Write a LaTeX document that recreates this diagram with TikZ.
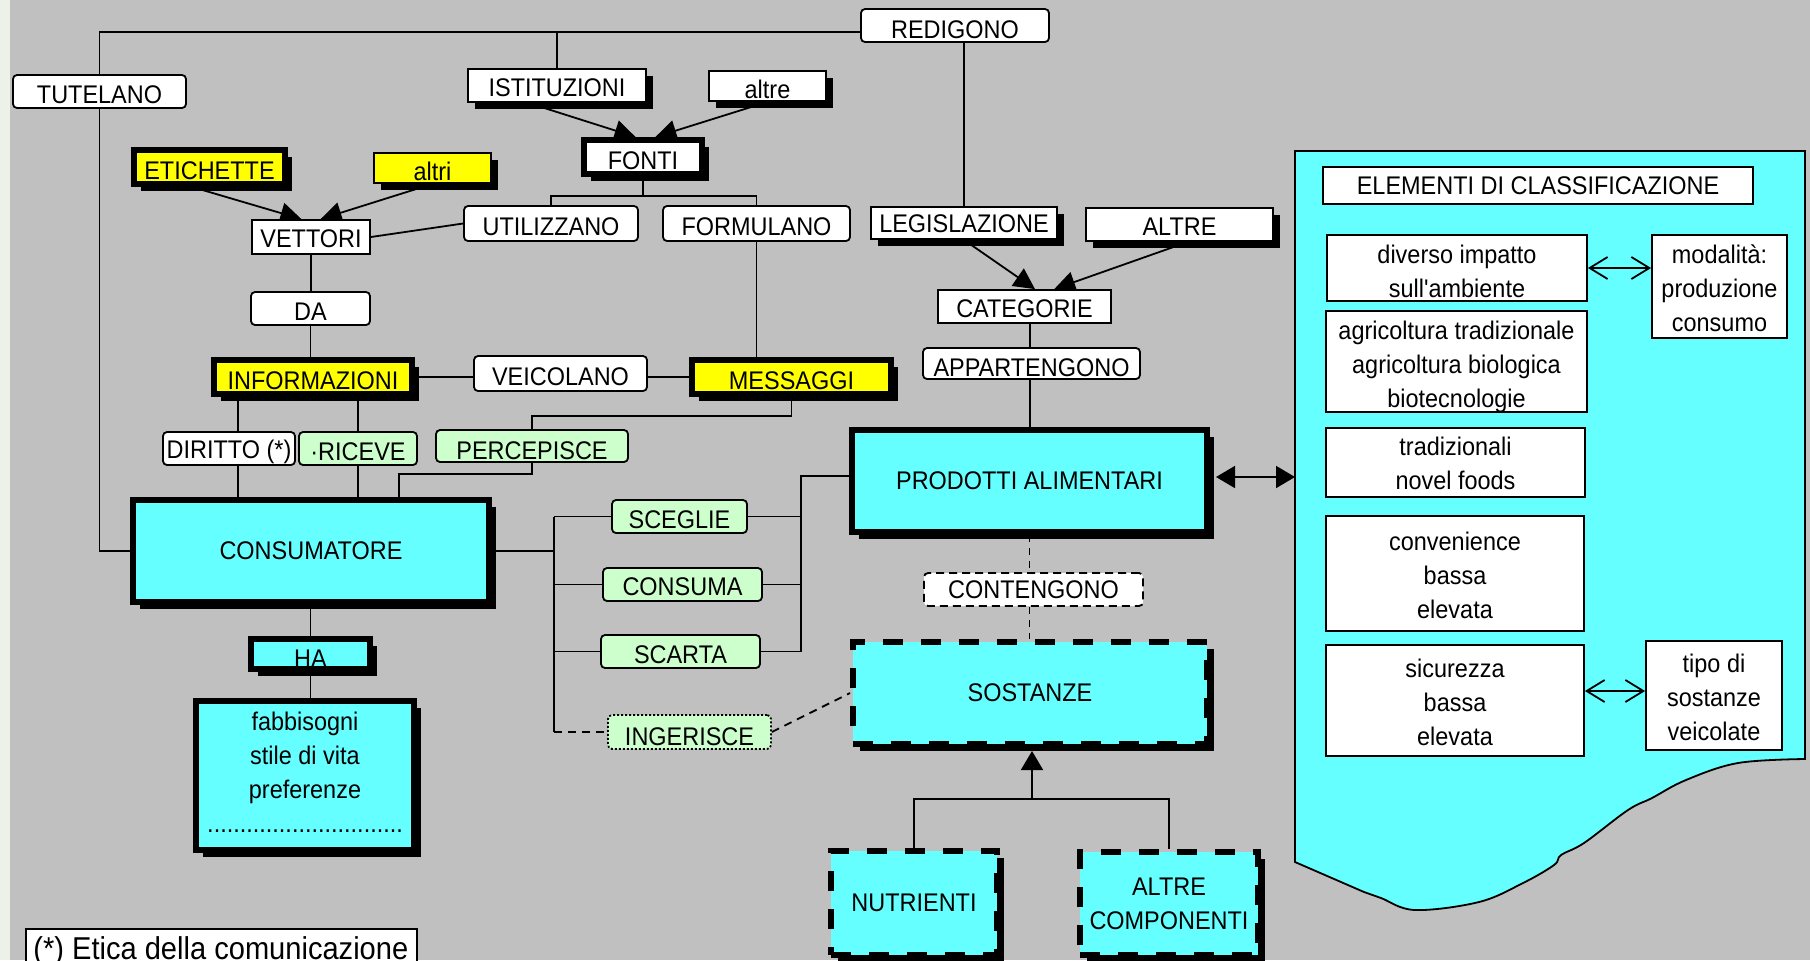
\documentclass[tikz,border=0pt]{standalone}
\usepackage{fontspec}
\setmainfont{Liberation Sans}[FakeStretch=0.92, Ligatures=TeXOff]
\usetikzlibrary{arrows.meta,shadows,fit,calc}
\pgfdeclarelayer{back}
\pgfdeclarelayer{wires}
\pgfsetlayers{back,wires,main}
\definecolor{paper}{RGB}{192,192,192}
\definecolor{cyanbox}{RGB}{102,255,255}
\definecolor{yel}{RGB}{255,255,0}
\definecolor{mint}{RGB}{204,255,204}
\definecolor{edgestrip}{RGB}{236,242,232}
\newcommand\lblfont{\fontsize{12.75pt}{17pt}\selectfont}

\tikzset{
  tri/.tip={Triangle[length=10.5pt,width=10.5pt]},
  bigtri/.tip={Triangle[length=9.5pt,width=11pt]},
  barb/.tip={Straight Barb[length=9pt,width=11pt,line width=0.9pt]},
  conn/.style={draw=black, line width=0.9pt},
  base/.style={inner sep=0pt, draw=black, line width=0.9pt},
  shad/.style={drop shadow={shadow xshift=3.3pt, shadow yshift=-3.3pt, fill=black, opacity=1}},
  wsq/.style={base, fill=white},
  wround/.style={base, fill=white, rounded corners=2pt},
  wshad/.style={wsq, shad},
  yshad/.style={base, fill=yel, shad},
  mintbox/.style={wround, fill=mint},
  heavy/.style={base, line width=3pt, shad},
  heavywhite/.style={heavy, fill=white},
  heavyyel/.style={heavy, fill=yel},
  heavycyan/.style={heavy, fill=cyanbox},
  dashcyan/.style={heavycyan, dash pattern=on 10pt off 9pt},
  lbl/.style={font=\lblfont, align=center, inner sep=0pt, yshift=-1.75pt},
  lblc/.style={font=\lblfont, align=center, inner sep=0pt}
}

\begin{document}
\begin{tikzpicture}[x=0.5pt, y=-0.5pt]
\useasboundingbox (0,0) rectangle (1810,960);
\clip (0,0) rectangle (1810,960);

% backdrop and classification panel
\begin{pgfonlayer}{back}
  \fill[paper] (0,0) rectangle (1810,960);
  \fill[edgestrip] (0,0) rectangle (10,960);
  \draw[line width=0.9pt, fill=cyanbox] (1295,151) -- (1805,151) -- (1805,759)
    -- plot[smooth, tension=0.6] coordinates {(1805,759) (1738,763) (1686,780) (1652,798)
       (1628,810) (1584,843) (1561,855) (1554,865) (1523,883) (1479,902) (1415,910)
       (1381,898) (1364,892)} -- (1295,862) -- cycle;
\end{pgfonlayer}
\coordinate (panelw) at (1295,477);

% upper row
\node[wround, fit={(13,75)(186,108)}, label={[lbl]center:TUTELANO}] (tut) {};
\node[wround, fit={(861,9)(1049,42)}, label={[lbl, yshift=-0.5pt]center:REDIGONO}] (red) {};
\node[wshad, fit={(468,69)(646,102)}, label={[lblc, yshift=-1pt]center:ISTITUZIONI}] (ist) {};
\node[wshad, fit={(709,71)(826,101)}, label={[lbl]center:altre}] (altre) {};
\node[heavywhite, fit={(584,140)(702,174)}, label={[lbl, yshift=-0.25pt]center:FONTI}] (fonti) {};
\node[wround, fit={(464,206)(638,241)}, label={[lbl]center:UTILIZZANO}] (util) {};
\node[wround, fit={(663,206)(850,241)}, label={[lbl]center:FORMULANO}] (form) {};
\node[wshad, fit={(871,207)(1057,239)}, label={[lblc, yshift=-0.5pt]center:LEGISLAZIONE}] (leg) {};
\node[wshad, fit={(1086,208)(1273,241)}, label={[lblc, yshift=-1pt]center:ALTRE}] (altreleg) {};
\node[wsq, fit={(938,290)(1111,323)}, label={[lblc, yshift=-1pt]center:CATEGORIE}] (cat) {};
\node[wround, fit={(923,348)(1140,379)}, label={[lbl, yshift=-0.5pt]center:APPARTENGONO}] (app) {};

% information chain
\node[heavyyel, fit={(134,150)(285,184)}, label={[lbl]center:ETICHETTE}] (etic) {};
\node[yshad, fit={(374,153)(491,183)}, label={[lbl]center:altri}] (altri) {};
\node[wsq, fit={(252,220)(370,254)}, label={[lblc, yshift=-1pt]center:VETTORI}] (vet) {};
\node[wround, fit={(251,292)(370,325)}, label={[lbl]center:DA}] (da) {};
\node[heavyyel, fit={(214,360)(412,394)}, label={[lbl]center:INFORMAZIONI}] (info) {};
\node[wround, fit={(474,356)(647,391)}, label={[lbl]center:VEICOLANO}] (veic) {};
\node[heavyyel, fit={(692,360)(891,394)}, label={[lbl]center:MESSAGGI}] (mess) {};
\node[wround, fit={(163,432)(295,465)}, label={[lbl]center:DIRITTO (*)}] (dir) {};
\node[mintbox, fit={(299,432)(417,465)}, label={[lbl]center:·RICEVE}] (ric) {};
\node[mintbox, fit={(436,430)(628,462)}, label={[lbl, yshift=-0.75pt]center:PERCEPISCE}] (perc) {};

% consumer side
\node[heavycyan, fit={(133,500)(489,602)}, label={[lblc]center:CONSUMATORE}] (cons) {};
\node[heavycyan, fit={(251,639)(370,669)}, label={[lbl, yshift=-0.75pt]center:HA}] (ha) {};
\node[heavycyan, fit={(196,701)(414,850)},
  label={[lblc, yshift=1.5pt]center:{fabbisogni\\stile di vita\\preferenze\\..............................}}] (fab) {};
\node[mintbox, fit={(612,500)(747,533)}, label={[lbl]center:SCEGLIE}] (sceg) {};
\node[mintbox, fit={(603,568)(762,601)}, label={[lblc, yshift=-1.25pt]center:CONSUMA}] (cnsm) {};
\node[mintbox, fit={(601,635)(760,668)}, label={[lbl]center:SCARTA}] (scar) {};
\node[mintbox, dash pattern=on 1pt off 1pt, fit={(608,715)(771,749)}, label={[lbl, yshift=-0.6pt]center:INGERISCE}] (ing) {};

% product side
\node[heavycyan, fit={(852,430)(1207,532)}, label={[lblc]center:PRODOTTI ALIMENTARI}] (prod) {};
\node[wround, dash pattern=on 4pt off 2.5pt, fit={(924,573)(1143,606)}, label={[lblc]center:CONTENGONO}] (cont) {};
\node[dashcyan, fit={(853,642)(1207,744)}, label={[lblc]center:SOSTANZE}] (sost) {};
\node[dashcyan, fit={(831,851)(997,955)}, label={[lblc]center:NUTRIENTI}] (nutr) {};
\node[dashcyan, fit={(1080,852)(1258,955)}, label={[lblc]center:{ALTRE\\COMPONENTI}}] (altc) {};

% classification elements
\node[wsq, fit={(1323,167)(1753,204)}, label={[lblc]center:ELEMENTI DI CLASSIFICAZIONE}] (elem) {};
\node[wsq, fit={(1327,235)(1587,301)}, label={[lblc, yshift=-1.5pt]center:{diverso impatto\\sull'ambiente}}] (div) {};
\node[wsq, fit={(1326,311)(1587,412)}, label={[lblc, yshift=-2.6pt]center:{agricoltura tradizionale\\agricoltura biologica\\biotecnologie}}] (agr) {};
\node[wsq, fit={(1326,428)(1585,497)}, label={[lblc, yshift=-0.5pt]center:{tradizionali\\novel foods}}] (trad) {};
\node[wsq, fit={(1326,516)(1584,631)}, label={[lblc, yshift=-0.75pt]center:{convenience\\bassa\\elevata}}] (conv) {};
\node[wsq, fit={(1326,645)(1584,756)}, label={[lblc, yshift=-0.75pt]center:{sicurezza\\bassa\\elevata}}] (sic) {};
\node[wsq, fit={(1652,235)(1787,338)}, label={[lblc, yshift=-0.9pt]center:{modalità:\\produzione\\consumo}}] (mod) {};
\node[wsq, fit={(1646,641)(1782,750)}, label={[lblc, yshift=-0.9pt]center:{tipo di\\sostanze\\veicolate}}] (tipo) {};

% footnote
\node[wsq, fit={(26,929)(417,990)}] (foot) {};
\node[anchor=base west, inner sep=0pt, font=\fontsize{15.8pt}{18pt}\selectfont] (foottxt) at (33,959) {(*) Etica della comunicazione};

% connectors
\begin{pgfonlayer}{wires}
  \coordinate (topy) at (0,32);
  \draw[conn] (tut.north) |- (red.west |- topy);
  \draw[conn] (ist.north) -- (ist.north |- topy);
  \draw[conn] (tut.south) |- (cons.west);

  \draw[conn, -tri] ($(ist.south west)!0.34!(ist.south east)$) -- ($(fonti.north west)!0.44!(fonti.north east)$);
  \draw[conn, -tri] (altre.south) -- ($(fonti.north west)!0.6!(fonti.north east)$);
  \coordinate (fj) at (646,196);
  \draw[conn] (fonti.south) -- (fonti.south |- fj);
  \draw[conn] (util.north) |- (fj) -| (form.north);

  \draw[conn] (leg.north) -- (leg.north |- red.south);
  \draw[conn, -tri] (leg.south) -- ($(cat.north west)!0.56!(cat.north east)$);
  \draw[conn, -tri] ($(altreleg.south west)!0.545!(altreleg.south east)$) -- ($(cat.north west)!0.67!(cat.north east)$);
  \coordinate (xc) at (1030,0);
  \draw[conn] (cat.south -| xc) -- (app.north -| xc);
  \draw[conn] (app.south -| xc) -- (prod.north -| xc);

  \draw[conn, -tri] ($(etic.south west)!0.39!(etic.south east)$) -- ($(vet.north west)!0.42!(vet.north east)$);
  \draw[conn, -tri] (altri.south) -- ($(vet.north west)!0.58!(vet.north east)$);
  \draw[conn] (vet.east) -- (util.west);
  \draw[conn] (vet.south) -- (vet.south |- da.north);
  \draw[conn] (da.south) -- (da.south |- info.north);
  \draw[conn] (info.east) -- (info.east -| veic.west);
  \draw[conn] (veic.east |- mess.west) -- (mess.west);
  \draw[conn] (form.south) -- (form.south |- mess.north);
  \draw[conn] (mess.south) -- ++(0,19) -| (perc.north);
  \draw[conn] (perc.south) -- ++(0,11) -| ($(cons.north west)!0.743!(cons.north east)$);
  \coordinate (xd) at (238,0);
  \draw[conn] (info.south -| xd) -- (dir.north -| xd);
  \draw[conn] (dir.south -| xd) -- (cons.north -| xd);
  \draw[conn] (info.south -| ric.north) -- (ric.north);
  \draw[conn] (ric.south) -- (ric.south |- cons.north);

  \coordinate (tl) at (554,0);
  \draw[conn] (cons.east) -- (cons.east -| tl);
  \draw[conn] (tl |- sceg.west) -- (tl |- ing.west);
  \draw[conn] (tl |- sceg.west) -- (sceg.west);
  \draw[conn] (tl |- cnsm.west) -- (cnsm.west);
  \draw[conn] (tl |- scar.west) -- (scar.west);
  \draw[conn, dash pattern=on 4pt off 3pt] (tl |- ing.west) -- (ing.west);
  \draw[conn, dash pattern=on 4pt off 3pt] (ing.east) -- (sost.west);

  \coordinate (tr) at (801,476);
  \draw[conn] (prod.west |- tr) -- (tr) -- (tr |- scar.east) -- (scar.east);
  \draw[conn] (sceg.east) -- (sceg.east -| tr);
  \draw[conn] (cnsm.east) -- (cnsm.east -| tr);

  \draw[conn, dash pattern=on 3.5pt off 3pt] (prod.south) -- (prod.south |- cont.north);
  \draw[conn, dash pattern=on 3.5pt off 3pt] (cont.south -| prod.south) -- (sost.north -| prod.south);
  \draw[conn, bigtri-bigtri] ($(prod.east)+(6,-4)$) -- (panelw);

  \draw[conn, barb-barb] (div.east) -- (div.east -| mod.west);
  \coordinate (sy) at (0,691);
  \draw[conn, barb-barb] (sic.east |- sy) -- (tipo.west |- sy);

  \coordinate (sj) at (1032,799);
  \coordinate (sjtip) at (1032,751);
  \draw[conn] (nutr.north) |- (sj) -| (altc.north);
  \draw[conn, -bigtri] (sj) -- (sjtip);

  \draw[conn] (cons.south -| ha.north) -- (ha.north);
  \draw[conn] (ha.south) -- (ha.south |- fab.north);
\end{pgfonlayer}
\end{tikzpicture}
\end{document}
